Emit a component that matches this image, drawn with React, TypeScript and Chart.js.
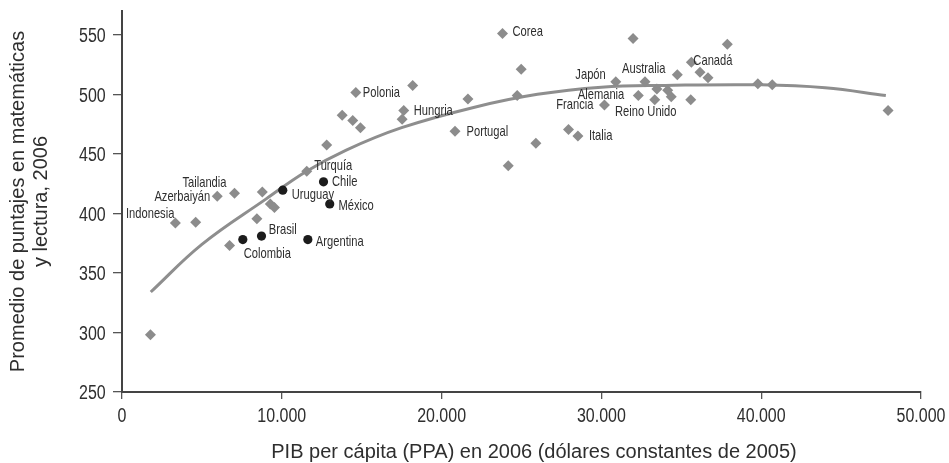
import React, { useEffect, useRef } from 'react';
import { Chart, registerables } from 'chart.js';

Chart.register(...registerables);

// Gray diamonds (other countries)
const DIAMOND_X = [1780, 3340, 4610, 5960, 7040, 8780, 9280, 9540, 8440, 6730, 11560, 12810, 13780, 14440, 14920, 14630, 18190, 17630, 17530, 21650, 20840, 23810, 24980, 24730, 24170, 25900, 27940, 28530, 30190, 30900, 31980, 32730, 32310, 33340, 33470, 34150, 34370, 34750, 35630, 36170, 36670, 35590, 37880, 39790, 40690, 47940];
const DIAMOND_Y = [298, 392, 392.5, 414.5, 417, 418, 408, 405, 395.5, 373, 435.5, 457.5, 482.5, 478, 472, 501.5, 507.5, 486.5, 479, 496, 469, 551, 521, 499, 440, 459, 470.5, 465, 491, 510.5, 547, 510.5, 499, 495.5, 504.5, 503.5, 498, 516.5, 527, 518.5, 514, 495.5, 542, 509, 508, 486.5];
const DIAMOND_LABELS = ['', 'Indonesia', '', 'Azerbaiyán', 'Tailandia', '', '', '', '', '', 'Turquía', '', '', '', '', 'Polonia', '', 'Hungria', '', '', 'Portugal', 'Corea', '', '', '', '', '', 'Italia', 'Francia', 'Japón', '', 'Australia', 'Alemania', 'Reino Unido', '', '', '', '', 'Canadá', '', '', '', '', '', '', ''];

// Black dots (Latin America)
const DOT_X = [10060, 12610, 13000, 8730, 7560, 11630];
const DOT_Y = [419.5, 426.5, 408, 381, 378, 378];
const DOT_LABELS = ['Uruguay', 'Chile', 'México', 'Brasil', 'Colombia', 'Argentina'];

// Fitted trend line
const CURVE_X = [1800, 5000, 9000, 11500, 14000, 17500, 22000, 26000, 30000, 34000, 40000, 44000, 47800];
const CURVE_Y = [334, 374, 412, 435, 453, 472, 489, 500, 506, 507.5, 508, 505.5, 499];

const X_TICKS = [0, 10000, 20000, 30000, 40000, 50000];
const Y_TICKS = [250, 300, 350, 400, 450, 500, 550];

const X_TITLE = 'PIB per cápita (PPA) en 2006 (dólares constantes de 2005)';
const Y_TITLE = ['Promedio de puntajes en matemáticas', 'y lectura, 2006'];

const SANS = "'Liberation Sans', Arial, sans-serif";
const TEXT_COLOR = '#2e2e2e';

// label placement: [dx, dy, align]
const LABEL_STYLE: Record<string, [number, number, CanvasTextAlign]> = {
  Indonesia: [-1, -10, 'right'],
  'Azerbaiyán': [-7, -0.5, 'right'],
  Tailandia: [-8, -11.5, 'right'],
  'Turquía': [7.5, -6.5, 'left'],
  Polonia: [7, -0.5, 'left'],
  Hungria: [10, -0.5, 'left'],
  Portugal: [11.5, 0, 'left'],
  Corea: [10, -2.3, 'left'],
  'Japón': [-10, -8.3, 'right'],
  Alemania: [-14, -2, 'right'],
  Francia: [-11, -0.7, 'right'],
  Italia: [11, -1, 'left'],
  Australia: [-1.3, -14, 'center'],
  'Reino Unido': [-9, 11.7, 'center'],
  'Canadá': [2, -2, 'left'],
  Uruguay: [9, 4, 'left'],
  Chile: [8.4, -0.7, 'left'],
  'México': [8.7, 0.7, 'left'],
  Brasil: [7.3, -6.7, 'left'],
  Colombia: [1, 13, 'left'],
  Argentina: [8, 1.4, 'left'],
};

const fmt = (v: number) => String(v).replace(/\B(?=(\d{3})+(?!\d))/g, '.');

// condensed text: draw Liberation Sans squeezed horizontally
function condensedText(ctx: CanvasRenderingContext2D, text: string, x: number, y: number, factor: number) {
  const w = ctx.measureText(text).width;
  ctx.fillText(text, x, y, w * factor);
}

const textPlugin = {
  id: 'textLayer',
  afterDatasetsDraw(chart: any) {
    const ctx = chart.ctx as CanvasRenderingContext2D;
    ctx.save();
    ctx.fillStyle = TEXT_COLOR;
    // point labels
    ctx.font = `14.5px ${SANS}`;
    ctx.textBaseline = 'middle';
    const sets: [number, string[]][] = [[0, DIAMOND_LABELS], [1, DOT_LABELS]];
    for (const [di, labels] of sets) {
      const meta = chart.getDatasetMeta(di);
      meta.data.forEach((el: any, i: number) => {
        const name = labels[i];
        if (!name) return;
        const s = LABEL_STYLE[name];
        if (!s) return;
        ctx.textAlign = s[2];
        condensedText(ctx, name, el.x + s[0], el.y + s[1] + 1, 0.77);
      });
    }
    ctx.restore();
  },
  afterDraw(chart: any) {
    const ctx = chart.ctx as CanvasRenderingContext2D;
    const xs = chart.scales.x;
    const ys = chart.scales.y;
    ctx.save();
    ctx.fillStyle = TEXT_COLOR;
    ctx.textBaseline = 'alphabetic';
    ctx.font = `19.5px ${SANS}`;
    // x tick labels
    ctx.textAlign = 'center';
    for (const v of X_TICKS) {
      condensedText(ctx, fmt(v), xs.getPixelForValue(v), xs.top + 29.5, 0.82);
    }
    // y tick labels
    ctx.textAlign = 'right';
    for (const v of Y_TICKS) {
      condensedText(ctx, fmt(v), ys.right - 16.3, ys.getPixelForValue(v) + 7.3, 0.82);
    }
    // x title
    ctx.font = `20px ${SANS}`;
    ctx.textAlign = 'center';
    ctx.fillText(X_TITLE, xs.left + (xs.right - xs.left) / 2 + 12.5, xs.top + 66);
    ctx.restore();
  },
};

export default function App() {
  const ref = useRef<HTMLCanvasElement | null>(null);

  useEffect(() => {
    if (!ref.current) return;
    const chart = new Chart(ref.current, {
      type: 'scatter',
      data: {
        datasets: [
          {
            label: 'países',
            data: DIAMOND_X.map((x, i) => ({ x, y: DIAMOND_Y[i] })),
            pointStyle: 'rectRot',
            pointRadius: 5.5,
            pointHoverRadius: 5.5,
            backgroundColor: '#8c8c8c',
            borderWidth: 0,
            pointBorderWidth: 0,
          },
          {
            label: 'América Latina',
            data: DOT_X.map((x, i) => ({ x, y: DOT_Y[i] })),
            pointStyle: 'circle',
            pointRadius: 4.6,
            pointHoverRadius: 4.6,
            backgroundColor: '#1c1c1c',
            borderWidth: 0,
            pointBorderWidth: 0,
          },
          {
            label: 'tendencia',
            data: CURVE_X.map((x, i) => ({ x, y: CURVE_Y[i] })),
            showLine: true,
            tension: 0.4,
            borderColor: '#8e8e8e',
            borderWidth: 3,
            pointRadius: 0,
            pointHoverRadius: 0,
            fill: false,
          } as any,
        ],
      },
      options: {
        animation: false,
        responsive: false,
        events: [],
        layout: { padding: { top: 11, right: 28, left: 0, bottom: 0 } },
        plugins: { legend: { display: false }, tooltip: { enabled: false } },
        scales: {
          x: {
            type: 'linear',
            min: 0,
            max: 50000,
            afterFit: (s: any) => {
              s.height = 71;
              s.paddingLeft = 0;
              s.paddingRight = 0;
            },
            afterBuildTicks: (s: any) => { s.ticks = X_TICKS.map((v) => ({ value: v })); },
            ticks: { display: false, includeBounds: false, autoSkip: false },
            grid: { drawOnChartArea: false, drawTicks: true, tickLength: 7, color: '#555', lineWidth: 1.3 },
            border: { display: true, color: '#444', width: 2 },
            title: { display: false },
          },
          y: {
            type: 'linear',
            min: 250,
            max: 570,
            afterFit: (s: any) => {
              s.width = 122;
              s.paddingTop = 0;
              s.paddingBottom = 0;
            },
            afterBuildTicks: (s: any) => { s.ticks = Y_TICKS.map((v) => ({ value: v })); },
            ticks: { display: false, includeBounds: false, autoSkip: false },
            grid: { drawOnChartArea: false, drawTicks: true, tickLength: 9, color: '#555', lineWidth: 1.3 },
            border: { display: true, color: '#444', width: 2 },
            title: {
              display: true,
              text: Y_TITLE,
              font: { family: SANS, size: 20, lineHeight: 1.15 },
              color: TEXT_COLOR,
              padding: { top: 7, bottom: 0 },
            },
          },
        },
      } as any,
      plugins: [textPlugin],
    });
    return () => chart.destroy();
  }, []);

  return (
    <div style={{ position: 'absolute', left: 0, top: 0, width: 949, height: 463, background: '#fff' }}>
      <canvas ref={ref} width={949} height={463} style={{ display: 'block', width: 949, height: 463 }} />
    </div>
  );
}
